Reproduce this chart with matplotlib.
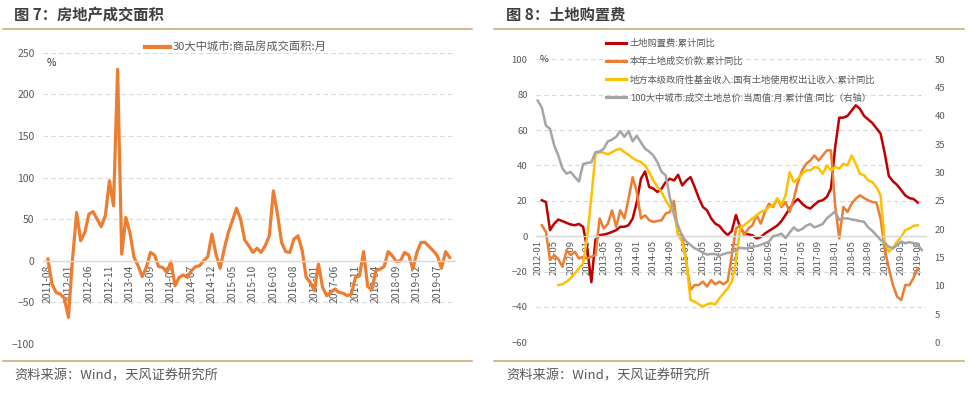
import numpy as np
import matplotlib
matplotlib.use('Agg')
import matplotlib.pyplot as plt
from matplotlib.lines import Line2D

plt.rcParams['font.family'] = ['Noto Sans CJK SC', 'DejaVu Sans']

TXT = '#595959'
TITLE = '#3F3F3F'
RULE = '#C9A46A'
GRID = '#D9D9D9'

# ---- 图 7: 30大中城市商品房成交面积 (monthly yoy, %), 2011-08 .. 2019-10
AREA_LABEL = '30大中城市:商品房成交面积:月'
AREA_TICKS = ['2011-08', '2012-01', '2012-06', '2012-11', '2013-04', '2013-09',
              '2014-02', '2014-07', '2014-12', '2015-05', '2015-10', '2016-03',
              '2016-08', '2017-01', '2017-06', '2017-11', '2018-04', '2018-09',
              '2019-02', '2019-07']
AREA_YOY = [2, -28, -38, -40, -45, -68, 2, 58, 24, 34,
            56, 59, 50, 41, 54, 96, 66, 230, 8, 52,
            34, 4, -6, -19, -8, 10, 7, -7, -8, -14,
            -1, -30, -20, -17, -20, -12, -7, -6, 0, 5,
            32, 8, -9, 14, 34, 48, 63, 50, 25, 18,
            10, 15, 10, 18, 30, 84, 56, 22, 11, 10,
            26, 30, 13, -20, -26, -36, -4, -32, -42, -38,
            -34, -38, -39, -42, -40, -20, -18, 11, -31, -35,
            -12, -10, -7, 11, 6, -1, 0, 10, 7, -10,
            10, 22, 22, 17, 12, 6, -9, 11, 4]

# ---- 图 8: 土地购置费 (cumulative yoy, %), month 0 = 2012-01
LAND_TICKS = ['2012-01', '2012-05', '2012-09', '2013-01', '2013-05', '2013-09',
              '2014-01', '2014-05', '2014-09', '2015-01', '2015-05', '2015-09',
              '2016-01', '2016-05', '2016-09', '2017-01', '2017-05', '2017-09',
              '2018-01', '2018-05', '2018-09', '2019-01', '2019-05', '2019-09']
N_MONTHS = 94

PURCHASE_LABEL = '土地购置费:累计同比'
PURCHASE_START = 1
PURCHASE = [20.3, 19.3, 3.4, 7.1, 9.4, 8.5, 7.5, 6.6, 6.2, 6.9,
            5.3, -7, -26, -2, 0.6, 0.9, 1.5, 2.4, 3.4, 5.3,
            5.3, 6.2, 10, 19.3, 32.5, 36.6, 27.8, 26.9, 25, 26.9,
            30.6, 32.5, 31.5, 34.7, 28.7, 31.5, 33.4, 27.8, 21.6, 16.5,
            14.6, 10, 7.1, 5.8, 2.8, 0.6, 3, 12, 5, 1.5,
            1.0, 0.5, -1.3, -0.5, 1.5, 3, 4.5, 6, 8.5, 12,
            15.6, 19, 21, 18.4, 16.5, 15.6, 17.8, 19.7, 20.3, 22.2,
            27, 50, 67, 67, 68, 71, 74, 72, 68, 66,
            64, 61, 58, 47, 34, 31, 29, 26, 23, 21.5,
            21, 19]

DEAL_LABEL = '本年土地成交价款:累计同比'
DEAL_START = 1
DEAL = [6.2, 2.4, -13.5, -10.7, -13, -17.3, -7.9, -10.7, -8.8, -12.6,
        -11.6, -12.6, -11.6, -10.7, 10, 4.3, 7.1, 14.6, 5.3, 14.6,
        10, 21.2, 33.4, 25, 10, 11.8, 9, 8.1, 8.6, 9,
        12.8, 13.7, 20, 0.6, 0.6, -15, -30.4, -27.6, -27.6, -25.7,
        -28.5, -24.8, -27.2, -25.7, -27.2, -25.4, -10.7, 4.3, 6.2, 0.6,
        4.3, 6.2, 11.8, 7.1, 13.7, 18.4, 16.5, 21.2, 16.5, 19.3,
        13.7, 21.2, 30.6, 37.2, 40.9, 42.8, 45.6, 42.8, 45.6, 48.5,
        48.5, 17.5, -1.3, 16.5, 13.7, 18.4, 21.2, 23.1, 21.6, 20.3,
        19.3, 19, 10, -7, -18.2, -27.6, -34.2, -36.1, -27.6, -27.6,
        -23.5, -18.2]

FUND_LABEL = '地方本级政府性基金收入:国有土地使用权出让收入:累计同比'
FUND_START = 5
FUND = [-27.6, -27.2, -25.7, -23.8, -21, -18.2, -15.4, 0, 22, 46.6,
        47.5, 47.2, 46.2, 47.5, 48.8, 49.4, 47.5, 46, 44.1, 42.8,
        41.9, 40, 36.2, 31.5, 27.8, 25, 20.3, 16.5, 13.7, 0.6,
        -3.2, -14.5, -36.1, -37, -38.5, -39.8, -38.5, -37.9, -38.5, -35.1,
        -32.3, -29.5, -25.7, -14.5, 4.3, 6.2, 8.1, 10, 11.8, 13.7,
        14.6, 16.5, 17.5, 21.2, 17.5, 23.1, 36.2, 30.6, 32.5, 35.3,
        37.2, 37.2, 39.1, 38.5, 35.3, 40, 37.2, 39.1, 38.1, 40.9,
        40, 45.6, 40.9, 35.3, 34.4, 31.5, 30.6, 27.8, 23.1, -3.2,
        -8.8, -6.6, -3.2, -0.4, 3.4, 4.3, 5.8, 6.2]

CITY_LABEL = '100大中城市:成交土地总价:当周值:月:累计值:同比（右轴）'
CITY_START = 0
CITY = [42.7, 41.5, 38.3, 37.7, 34.8, 33.0, 30.7, 29.8, 30.1, 29.2,
        28.4, 31.5, 31.7, 31.8, 33.6, 33.7, 34.2, 35.5, 35.8, 36.3,
        37.3, 36.3, 37.3, 35.5, 36.5, 35.3, 34.2, 33.7, 33.0, 31.8,
        30.1, 29.5, 25.6, 22.5, 20.6, 18.75, 17.8, 17.2, 16.6, 16.3,
        15.8, 15.5, 15.6, 15.6, 15.3, 15.6, 15.8, 15.9, 16.3, 16.7,
        16.6, 16.6, 16.9, 17.0, 17.2, 17.5, 17.8, 18.75, 18.9, 19.2,
        18.4, 19.4, 20.3, 19.7, 20.0, 20.6, 20.9, 20.3, 20.6, 20.9,
        21.9, 22.5, 23.1, 21.6, 21.9, 21.9, 21.7, 21.6, 21.4, 21.3,
        20.3, 19.7, 18.9, 18.1, 17.5, 16.9, 16.6, 17.2, 17.8, 17.5,
        17.7, 17.5, 17.2, 16.3]


def px(x, y):
    # pixel position (from top-left) -> figure fraction
    return x / 971, 1 - y / 396


def frame(fig, x0, x1, title, tx):
    fig.add_artist(Line2D([x0 / 971, x1 / 971], [px(0, 28.5)[1]] * 2, color=RULE, lw=1.1))
    fig.add_artist(Line2D([x0 / 971, x1 / 971], [px(0, 360.5)[1]] * 2, color=RULE, lw=1.1))
    fig.text(*px(tx, 15), title, fontsize=11, fontweight='bold', color=TITLE, va='center')
    fig.text(*px(tx, 376), '资料来源：Wind，天风证券研究所', fontsize=9.5, color=TXT, va='center')


def style_axis(ax, fs, ypad):
    for s in ['top', 'right', 'left']:
        ax.spines[s].set_visible(False)
    ax.spines['bottom'].set_position(('data', 0))
    ax.spines['bottom'].set_color(GRID)
    ax.spines['bottom'].set_linewidth(1.0)
    ax.grid(axis='y', color=GRID, ls=(0, (4, 3)), lw=0.8)
    ax.set_axisbelow(True)
    ax.tick_params(axis='x', length=0, pad=3, labelsize=fs, colors=TXT, labelrotation=90)
    ax.tick_params(axis='y', length=0, pad=ypad, labelsize=fs, colors=TXT)


def series(start, vals):
    y = np.full(N_MONTHS, np.nan)
    y[start:start + len(vals)] = vals
    return y


fig = plt.figure(figsize=(9.71, 3.96), dpi=100)

# ---------------- left: 图 7
frame(fig, 3, 472, '图 7：房地产成交面积', 14)
l, b = px(43, 344)
ax1 = fig.add_axes([l, b, 412 / 971, (344 - 52.7) / 396])
x = np.arange(len(AREA_YOY))
ax1.plot(x, AREA_YOY, color='#ED7D31', lw=2.3, solid_joinstyle='round')
ax1.set_xlim(-1.2, 99.3)
ax1.set_ylim(-100, 250)
style_axis(ax1, 7.5, 6)
ax1.set_yticks(range(-100, 251, 50))
ax1.set_xticks(range(0, len(AREA_YOY), 5))
ax1.set_xticklabels(AREA_TICKS, rotation=90)
fig.text(*px(47, 63), '%', fontsize=7.5, color='#333333', va='center')
ax1.legend(handles=[Line2D([], [], color='#ED7D31', lw=3)], labels=[AREA_LABEL],
           loc='center left', bbox_to_anchor=px(145, 47), bbox_transform=fig.transFigure,
           frameon=False, fontsize=8.1, handlelength=2.2, handletextpad=0.25,
           borderpad=0, borderaxespad=0, labelcolor=TXT)

# ---------------- right: 图 8
frame(fig, 494, 964, '图 8：土地购置费', 506)
l, b = px(536, 342.3)
ax2 = fig.add_axes([l, b, 390 / 971, (342.3 - 59.3) / 396])
xr = np.arange(N_MONTHS)
h1, = ax2.plot(xr, series(PURCHASE_START, PURCHASE), color='#C00000', lw=1.8)
h2, = ax2.plot(xr, series(DEAL_START, DEAL), color='#ED7D31', lw=1.8)
h3, = ax2.plot(xr, series(FUND_START, FUND), color='#FFC000', lw=1.8)
ax2.set_xlim(-0.4, 94)
ax2.set_ylim(-60, 100)
style_axis(ax2, 6.8, 6)
ax2.set_yticks(range(-60, 101, 20))
ax2.set_xticks(range(0, N_MONTHS, 4))
ax2.set_xticklabels(LAND_TICKS, rotation=90)

ax3 = ax2.twinx()
h4, = ax3.plot(xr, series(CITY_START, CITY), color='#A5A5A5', lw=1.8)
ax3.set_ylim(0, 50)
ax3.set_yticks(range(0, 51, 5))
for s in ax3.spines.values():
    s.set_visible(False)
ax3.tick_params(axis='y', length=0, pad=6, labelsize=6.8, colors=TXT)
fig.text(*px(540, 60), '%', fontsize=6.8, color='#333333', va='center')

leg_handles = [Line2D([], [], color=h.get_color(), lw=2.2) for h in (h1, h2, h3, h4)]
ax3.legend(handles=leg_handles,
           labels=[PURCHASE_LABEL, DEAL_LABEL, FUND_LABEL, CITY_LABEL],
           loc='upper left', bbox_to_anchor=px(606, 39), bbox_transform=fig.transFigure,
           frameon=False, fontsize=6.7, handlelength=2.2, handletextpad=0.35,
           labelspacing=0.95, borderpad=0, borderaxespad=0, labelcolor=TXT)

fig.savefig('out.png', dpi=100)
